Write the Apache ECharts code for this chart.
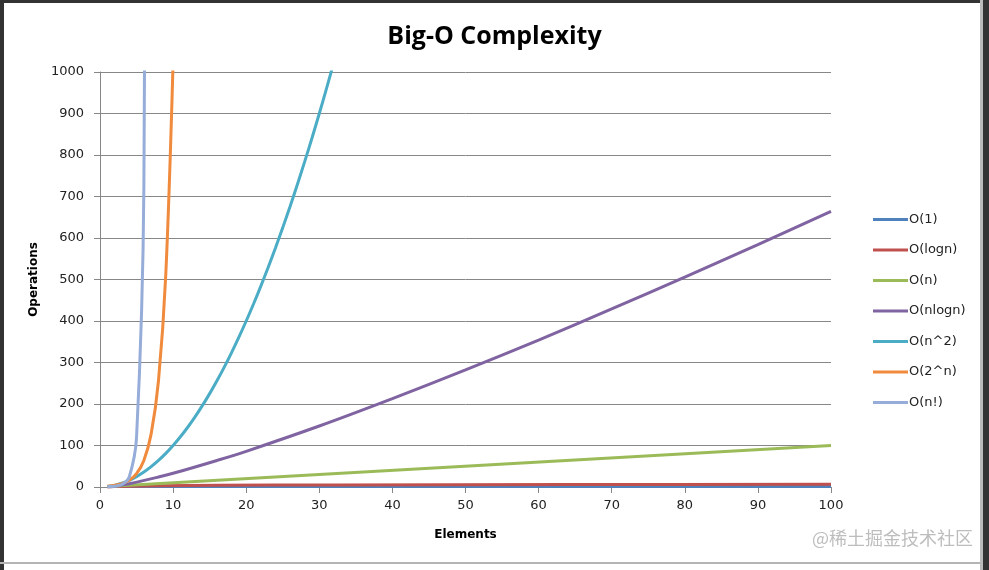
<!DOCTYPE html>
<html>
<head>
<meta charset="utf-8">
<script src="https://cdn.jsdelivr.net/npm/echarts@6/dist/echarts.min.js"></script>
<style>
html,body{margin:0;padding:0;background:#fff;}
#chart{width:989px;height:570px;}
</style>
</head>
<body>
<div id="chart"></div>
<script>
// ---- data ----
const seriesNames = ["O(1)", "O(logn)", "O(n)", "O(nlogn)", "O(n^2)", "O(2^n)", "O(n!)"];
const xTickLabels = [0, 10, 20, 30, 40, 50, 60, 70, 80, 90, 100];
const yTickLabels = [0, 100, 200, 300, 400, 500, 600, 700, 800, 900, 1000];

const xConst = [1, 100];
const yConst = [1, 1];

const xLog = [1, 2, 4, 8, 16, 32, 64, 100];
const yLog = [0, 1, 2, 3, 4, 5, 6, 6.6];

const xLin = [1, 100];
const yLin = [1, 100];

const xNlogn = [1, 2, 4, 8, 10, 16, 20, 30, 40, 50, 60, 70, 80, 90, 100];
const yNlogn = [0, 2, 8, 24, 33, 64, 86, 147, 213, 282, 354, 429, 506, 584, 664];

const xSq = [1,2,3,4,5,6,7,8,9,10,11,12,13,14,15,16,17,18,19,20,21,22,23,24,25,26,27,28,29,30,31,32];
const ySq = [1,4,9,16,25,36,49,64,81,100,121,144,169,196,225,256,289,324,361,400,441,484,529,576,625,676,729,784,841,900,961,1024];

const xExp = [1,2,3,4,5,6,7,8,9,10];
const yExp = [2,4,8,16,32,64,128,256,512,1024];

const xFact = [1,2,3,4,5,6,7];
const yFact = [1,2,6,24,120,720,5040];

const colors = ["#4F81BD", "#C0504D", "#9BBB59", "#8064A2", "#4BACC6", "#F08A3C", "#95ADD8"];

function pairs(xs, ys){ return xs.map((x,i)=>[x, ys[i]]); }
const seriesData = [
  pairs(xConst, yConst),
  pairs(xLog, yLog),
  pairs(xLin, yLin),
  pairs(xNlogn, yNlogn),
  pairs(xSq, ySq),
  pairs(xExp, yExp),
  pairs(xFact, yFact)
];

const chart = echarts.init(document.getElementById('chart'), null, {renderer:'canvas'});
const axisGray = '#878787';
const labelFont = 'DejaVu Sans';

chart.setOption({
  animation: false,
  backgroundColor: '#ffffff',
  title: {
    text: 'Big-O Complexity',
    left: 'center',
    top: 19,
    textStyle: {fontFamily: 'Open Sans', fontWeight: 'bold', fontSize: 25, color: '#000'}
  },
  legend: {
    orient: 'vertical',
    left: 868,
    top: 208,
    itemWidth: 35,
    itemHeight: 3,
    itemGap: 17.5,
    icon: 'rect',
    data: seriesNames,
    textStyle: {fontFamily: labelFont, fontSize: 13, color: '#222', padding: [0,0,0,-4]}
  },
  grid: {left: 100, right: 158, top: 72, bottom: 83, containLabel: false},
  xAxis: {
    type: 'value', min: 0, max: 100, interval: 10,
    name: 'Elements', nameLocation: 'middle', nameGap: 42,
    nameTextStyle: {fontFamily: labelFont, fontWeight: 'bold', fontSize: 12, color: '#000'},
    axisLine: {show: true, lineStyle: {color: axisGray, width: 1}},
    axisTick: {show: true, length: 6, lineStyle: {color: axisGray}},
    axisLabel: {margin: 12, fontFamily: labelFont, fontSize: 13, color: '#222',
      formatter: v => xTickLabels.includes(v) ? String(v) : ''},
    splitLine: {show: false}
  },
  yAxis: {
    type: 'value', min: 0, max: 1000, interval: 100,
    name: 'Operations', nameLocation: 'middle', nameGap: 54, nameRotate: 90,
    nameTextStyle: {fontFamily: labelFont, fontWeight: 'bold', fontSize: 12, color: '#000'},
    axisLine: {show: true, lineStyle: {color: axisGray, width: 1}},
    axisTick: {show: true, length: 6, lineStyle: {color: axisGray}},
    axisLabel: {margin: 16, fontFamily: labelFont, fontSize: 13, color: '#222', padding: [3,0,0,0],
      formatter: v => yTickLabels.includes(v) ? String(v) : ''},
    splitLine: {show: true, lineStyle: {color: axisGray, width: 1}}
  },
  series: seriesNames.map((name, i) => ({
    name: name,
    type: 'line',
    data: seriesData[i],
    showSymbol: false,
    symbol: 'none',
    smooth: 0.35,
    clip: true,
    color: colors[i],
    lineStyle: {width: 3, color: colors[i]},
    z: 2 + i
  })),
  graphic: [
    {type: 'text', right: 16, top: 529, silent: true,
     style: {text: '@稀土掘金技术社区', fontFamily: 'Noto Sans CJK SC', fontSize: 18, fill: '#bdbdbd'}},
    {type: 'rect', left: 0, top: 0, shape: {width: 4, height: 570}, style: {fill: '#333'}},
    {type: 'rect', left: 0, top: 0, shape: {width: 989, height: 3}, style: {fill: '#333'}},
    {type: 'rect', left: 980, top: 0, shape: {width: 3, height: 570}, style: {fill: '#bbb'}},
    {type: 'rect', left: 983, top: 0, shape: {width: 6, height: 570}, style: {fill: '#333'}},
    {type: 'rect', left: 0, top: 562, shape: {width: 981, height: 2}, style: {fill: '#b5b5b5'}}
  ]
});
</script>
</body>
</html>
